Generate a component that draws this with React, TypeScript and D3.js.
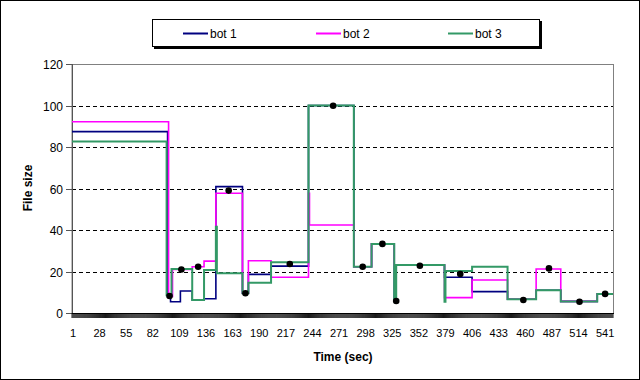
import React, { useRef, useEffect } from 'react';
import * as d3 from 'd3';

// step change points (category index) shared by the three bots
const breaks = [1, 97, 98, 99, 101, 102, 103, 111, 123, 135, 147, 148, 174, 180, 203, 241, 242, 287, 305, 328, 330, 379, 380, 407, 443, 472, 497, 534, 550];

const bot1 = [87.4, 87.4, 8, 8, 5.4, 5.4, 5.4, 10.6, 6.3, 6.9, 60.9, 60.9, 9.5, 18.6, 22.6, 100, 100, 22.3, 33.3, 5.8, 23.1, 17.2, 17.2, 10.3, 6.6, 11, 5.6, 9.2, 9.2];
const bot2 = [92.2, 92.2, 92.2, 8, 8, 8, 21, 21, 22.3, 25, 57.7, 57.7, 9.5, 25.2, 17.2, 57.7, 42.4, 22.3, 33.3, 23.1, 23.1, 7.4, 7.4, 15.9, 6.6, 21.2, 5.6, 9.2, 9.2];
const bot3 = [82.6, 8.5, 8.5, 8.5, 8.5, 21.2, 21.2, 21.2, 6.3, 20.7, 41.6, 19.1, 9.5, 14.6, 24.5, 100, 100, 22.3, 33.3, 5.8, 23.1, 5.4, 20.3, 22.3, 6.6, 11, 5.6, 9.2, 9.2];

// black marker points
const markCats = [100, 112, 129, 160, 177, 222, 266, 296, 316, 330, 354, 395, 459, 485, 516, 542];
const markVals = [8.2, 21, 22.3, 59, 9.5, 23.6, 99.9, 22.3, 33.3, 5.8, 22.8, 18.8, 6.3, 21.5, 5.4, 9.2];

const seriesNames = ['bot 1', 'bot 2', 'bot 3'];
const seriesColors = ['#000080', '#FF00FF', '#339966'];
const xTickLabels = [1, 28, 55, 82, 109, 136, 163, 190, 217, 244, 271, 298, 325, 352, 379, 406, 433, 460, 487, 514, 541];
const yTicks = [0, 20, 40, 60, 80, 100, 120];
const lastCategory = 550;

const App = () => {
  const svgRef = useRef<SVGSVGElement>(null);

  useEffect(() => {
    const width = 640;
    const height = 380;
    const svg = d3.select(svgRef.current);
    svg.selectAll('*').remove();
    svg.attr('width', width).attr('height', height);

    const font = 'Liberation Sans, Arial, sans-serif';
    const left = 72, right = 613, top = 64, bottom = 313;

    const x = d3.scaleLinear().domain([1, lastCategory]).range([left, right]);
    const y = d3.scaleLinear().domain([0, 120]).range([bottom, top]);

    // chart frame
    svg.append('rect')
      .attr('x', 0.5).attr('y', 0.5)
      .attr('width', width - 1).attr('height', height - 1)
      .attr('fill', '#fff').attr('stroke', '#000');

    // plot area border
    svg.append('rect')
      .attr('x', left).attr('y', top + 0.5)
      .attr('width', right - left + 0.5).attr('height', bottom - top)
      .attr('fill', '#fff').attr('stroke', '#808080');

    // gridlines
    svg.append('g')
      .selectAll('line')
      .data(yTicks.filter(t => t > 0 && t < 120))
      .enter()
      .append('line')
      .attr('x1', left).attr('x2', right)
      .attr('y1', d => Math.round(y(d)) + 0.5)
      .attr('y2', d => Math.round(y(d)) + 0.5)
      .attr('stroke', '#000')
      .attr('stroke-dasharray', '4,3');

    // y axis
    const yAxis = svg.append('g');
    yAxis.append('line')
      .attr('x1', left + 0.5).attr('x2', left + 0.5)
      .attr('y1', top).attr('y2', bottom)
      .attr('stroke', '#555');
    yTicks.forEach(t => {
      const yy = Math.round(y(t)) + 0.5;
      yAxis.append('line')
        .attr('x1', left - 6).attr('x2', left)
        .attr('y1', yy).attr('y2', yy)
        .attr('stroke', '#555');
      yAxis.append('text')
        .attr('x', left - 9).attr('y', yy + 4.5)
        .attr('text-anchor', 'end')
        .attr('font-family', font).attr('font-size', '12px')
        .text(t);
    });

    // x axis with a tick for every category
    const xAxis = svg.append('g');
    xAxis.selectAll('line.tick')
      .data(d3.range(1, lastCategory + 1))
      .enter()
      .append('line')
      .attr('class', 'tick')
      .attr('x1', d => x(d)).attr('x2', d => x(d))
      .attr('y1', bottom).attr('y2', bottom + 5)
      .attr('stroke', '#000')
      .attr('stroke-width', 0.9);
    xAxis.append('line')
      .attr('x1', left).attr('x2', right + 1)
      .attr('y1', bottom + 0.5).attr('y2', bottom + 0.5)
      .attr('stroke', '#000');
    xAxis.selectAll('text')
      .data(xTickLabels)
      .enter()
      .append('text')
      .attr('x', d => x(d) + 1)
      .attr('y', bottom + 24)
      .attr('text-anchor', 'middle')
      .attr('font-family', font).attr('font-size', '11px')
      .text(d => d);

    // lines
    const line = d3.line<number>()
      .x((d, i) => x(breaks[i]))
      .y(d => y(d))
      .curve(d3.curveStepAfter);

    [bot1, bot2, bot3].forEach((vals, i) => {
      svg.append('path')
        .attr('d', line(vals))
        .attr('fill', 'none')
        .attr('stroke', seriesColors[i])
        .attr('stroke-width', i === 2 ? 2 : 1.6);
    });

    // markers
    svg.append('g')
      .selectAll('circle')
      .data(markCats)
      .enter()
      .append('circle')
      .attr('cx', d => x(d))
      .attr('cy', (d, i) => y(markVals[i]))
      .attr('r', 3.3)
      .attr('fill', '#000');

    // legend
    const legend = svg.append('g');
    legend.append('rect')
      .attr('x', 154).attr('y', 21)
      .attr('width', 388).attr('height', 28)
      .attr('fill', '#000');
    legend.append('rect')
      .attr('x', 152.5).attr('y', 19.5)
      .attr('width', 387).attr('height', 27)
      .attr('fill', '#fff').attr('stroke', '#000');
    const legendX = [183, 316, 448];
    seriesNames.forEach((name, i) => {
      legend.append('line')
        .attr('x1', legendX[i]).attr('x2', legendX[i] + 25)
        .attr('y1', 33.5).attr('y2', 33.5)
        .attr('stroke', seriesColors[i])
        .attr('stroke-width', 2);
      legend.append('text')
        .attr('x', legendX[i] + 27).attr('y', 38)
        .attr('font-family', font).attr('font-size', '12px')
        .text(name);
    });

    // axis titles
    svg.append('text')
      .attr('x', 343).attr('y', 361)
      .attr('text-anchor', 'middle')
      .attr('font-family', font).attr('font-size', '12px')
      .attr('font-weight', 'bold')
      .text('Time (sec)');

    svg.append('text')
      .attr('transform', 'rotate(-90)')
      .attr('x', -188).attr('y', 32)
      .attr('text-anchor', 'middle')
      .attr('font-family', font).attr('font-size', '12px')
      .attr('font-weight', 'bold')
      .text('File size');
  }, []);

  return <svg ref={svgRef} style={{ position: 'absolute', left: 0, top: 0 }}></svg>;
};

export default App;
